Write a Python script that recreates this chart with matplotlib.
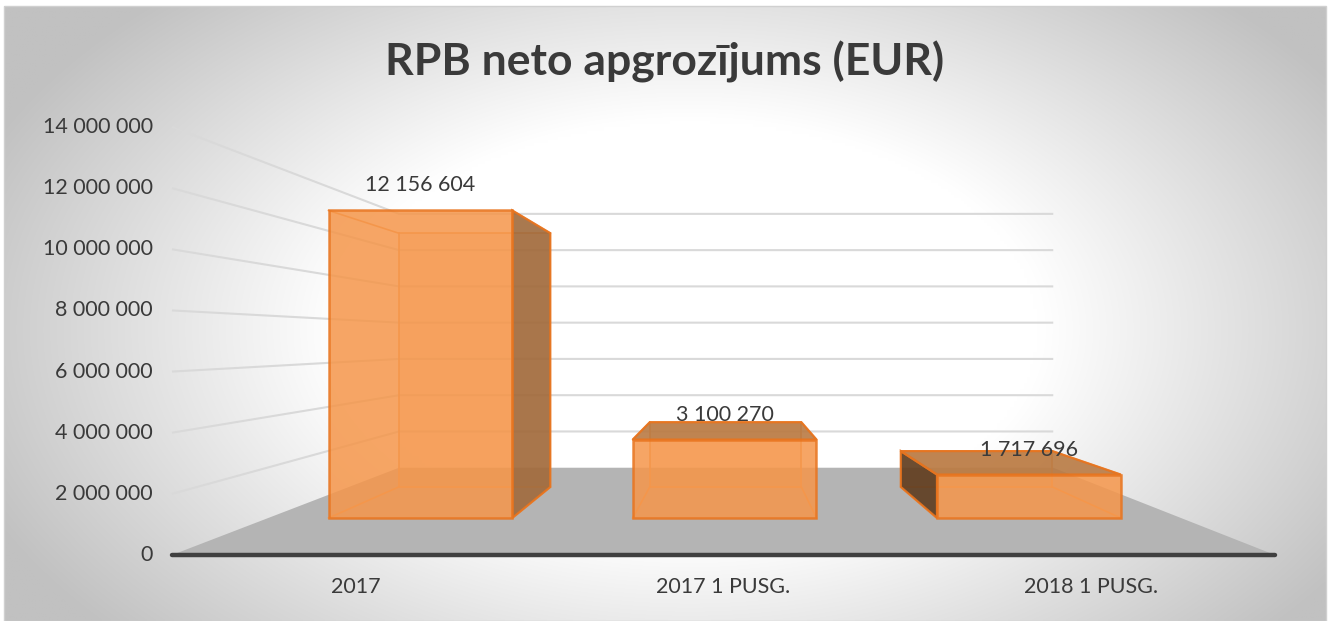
import numpy as np
import matplotlib.pyplot as plt
from matplotlib.patches import Polygon, Rectangle

categories = ['2017', '2017 1 PUSG.', '2018 1 PUSG.']
values = [12156604, 3100270, 1717696]
y_ticks = [0, 2000000, 4000000, 6000000, 8000000, 10000000, 12000000, 14000000]
title = 'RPB neto apgrozījums (EUR)'

W, H = 1333, 621
FONT = 'Lato'

# fake 3D projection (pixel space): front plane + vanishing point
X0, X1 = 172, 1275          # front edge of floor
Y0, Y_TOP = 555, 127        # value 0 / 14M on the front plane
VMAX = 14000000
VX, VY = 730, 340.5         # vanishing point
K = 0.686                   # depth factor, back wall at z=1
BAR_W = 0.604               # fraction of category width
Z1, Z2 = 0.304, 0.677       # bar depth range


def fmt(v):
    return f'{v:,}'.replace(',', ' ')


def proj(xf, v, z):
    """xf in front-plane pixels, v value, z depth 0..1"""
    yf = Y0 - v * (Y0 - Y_TOP) / VMAX
    s = 1.0 / (1.0 + K * z)
    return VX + (xf - VX) * s, VY + (yf - VY) * s


def cat_x(i):
    cw = (X1 - X0) / len(categories)
    return X0 + (i + 0.5) * cw, cw


fig = plt.figure(figsize=(W / 100, H / 100), dpi=100)
ax = fig.add_axes([0, 0, 1, 1])
ax.set_xlim(0, W)
ax.set_ylim(H, 0)
ax.axis('off')

# background: radial gradient inside a thin frame
gx, gy = np.meshgrid(np.linspace(4, 1326, 400), np.linspace(6, H, 200))
r = np.sqrt(((gx - 690) / 700) ** 2 + ((gy - 330) / 420) ** 2)
drop = 62 * np.clip((r - 0.5) / 0.6, 0, 1)
bg = np.clip((255 - drop) / 255, 0, 1)
ax.imshow(np.dstack([bg, bg, bg]), extent=(4, 1326, H, 6), aspect='auto',
          interpolation='bilinear', zorder=0)
ax.add_patch(Rectangle((4, 6), 1322, H - 6, fill=False, ec='#d0d0d0', lw=1, zorder=1))

# floor
floor = [proj(X0, 0, 0), proj(X1, 0, 0), proj(X1, 0, 1), proj(X0, 0, 1)]
ax.add_patch(Polygon(floor, closed=True, fc='#b4b4b4', ec='none', zorder=2))

# gridlines: left wall + back wall
for t in y_ticks[1:]:
    xs, ys = zip(proj(X0, t, 0), proj(X0, t, 1), proj(X1, t, 1))
    ax.plot(xs, ys, color='#d9d9d9', lw=1.5, zorder=2, solid_capstyle='butt')

# value axis labels
for t in y_ticks:
    px, py = proj(X0, t, 0)
    ax.text(px - 19, py, fmt(t), ha='right', va='center', fontsize=15.5,
            family=FONT, color='#3a3a3a')

# front axis line
(ax0, ay0), (ax1, ay1) = proj(X0, 0, 0), proj(X1, 0, 0)
ax.plot([ax0, ax1], [ay0, ay1], color='#404040', lw=3.2, zorder=6,
        solid_capstyle='round')

# bars
EDGE = '#e8741e'
for i, (cat, v) in enumerate(zip(categories, values)):
    cx, cw = cat_x(i)
    xl, xr = cx - BAR_W * cw / 2, cx + BAR_W * cw / 2
    P = {}
    for a, xx in (('l', xl), ('r', xr)):
        for b, vv in (('b', 0), ('t', v)):
            for c, zz in (('f', Z1), ('k', Z2)):
                P[a + b + c] = proj(xx, vv, zz)

    # back face + hidden edges (seen through the transparent body)
    back = [P['lbk'], P['rbk'], P['rtk'], P['ltk']]
    ax.add_patch(Polygon(back, closed=True, fc='#f5964a', alpha=0.25,
                         ec='none', zorder=3))
    for e in [('lbk', 'rbk'), ('rbk', 'rtk'), ('rtk', 'ltk'), ('ltk', 'lbk'),
              ('lbf', 'lbk'), ('rbf', 'rbk'), ('ltf', 'ltk'), ('rtf', 'rtk')]:
        xs, ys = zip(P[e[0]], P[e[1]])
        ax.plot(xs, ys, color='#f39a55', lw=1.2, zorder=3)

    # side faces
    if xr < VX:
        side = [P['rbf'], P['rbk'], P['rtk'], P['rtf']]
        ax.add_patch(Polygon(side, closed=True, fc='#a06a3c', alpha=0.9,
                             ec=EDGE, lw=1.6, zorder=4))
    if xl > VX:
        side = [P['lbf'], P['lbk'], P['ltk'], P['ltf']]
        ax.add_patch(Polygon(side, closed=True, fc='#5e3c1f', alpha=0.9,
                             ec=EDGE, lw=1.6, zorder=4))
    # top face (visible when below eye level)
    if P['ltf'][1] > P['ltk'][1]:
        top = [P['ltf'], P['rtf'], P['rtk'], P['ltk']]
        ax.add_patch(Polygon(top, closed=True, fc='#b97a43', alpha=0.9,
                             ec=EDGE, lw=1.6, zorder=4))

    # front face
    front = [P['lbf'], P['rbf'], P['rtf'], P['ltf']]
    ax.add_patch(Polygon(front, closed=True, fc='#f5964a', alpha=0.85,
                         ec=EDGE, lw=1.8, zorder=5))

    # data label
    tx = (P['ltf'][0] + P['rtf'][0]) / 2
    ax.text(tx, P['ltf'][1] - 25, fmt(v), ha='center', va='center', fontsize=15.5,
            family=FONT, color='#3a3a3a', zorder=7)

    # category label
    ax.text(cx, 587, cat, ha='center', va='center', fontsize=15.5, family=FONT,
            color='#3a3a3a')

ax.text(665, 62, title, ha='center', va='center', fontsize=32, family=FONT,
        weight='bold', color='#3a3a3a')

fig.savefig('out.png', dpi=100)
